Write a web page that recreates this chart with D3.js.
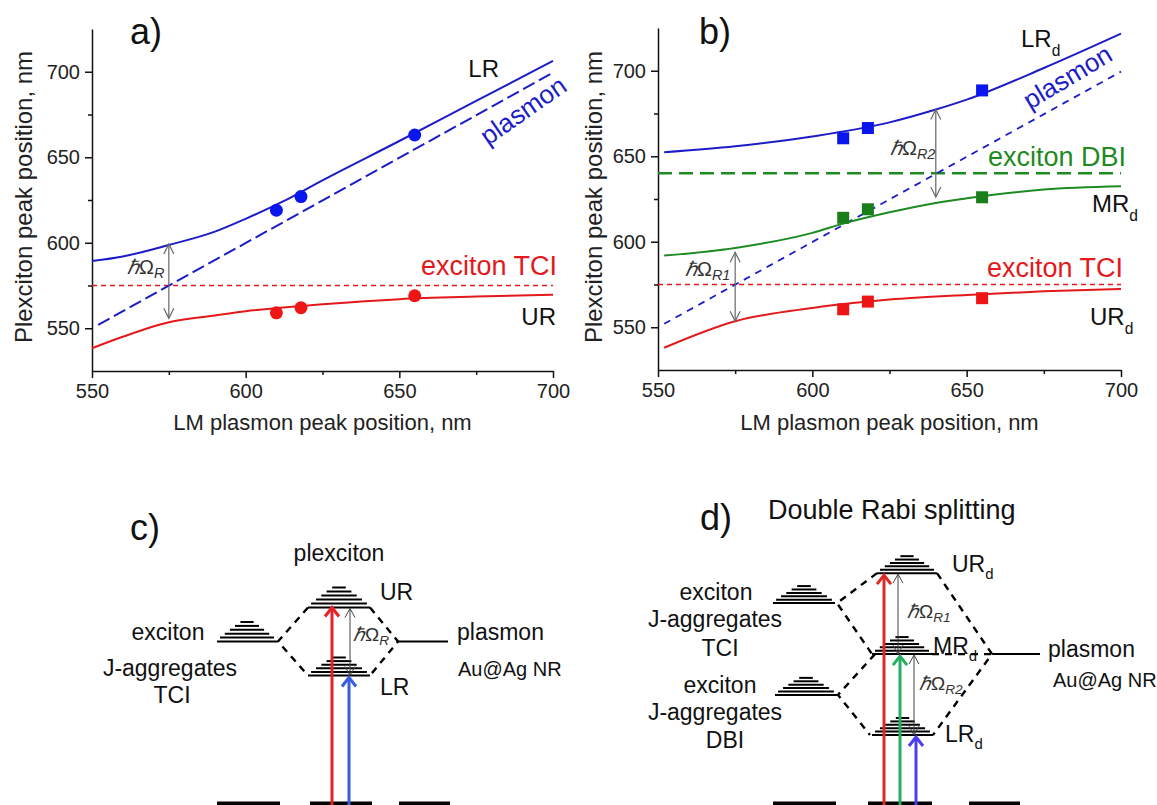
<!DOCTYPE html>
<html>
<head>
<meta charset="utf-8">
<script src="https://cdn.jsdelivr.net/npm/d3@7"></script>
<style>
  body { margin: 0; background: #fff; }
  text { font-family: "Liberation Sans", Arial, sans-serif; }
</style>
</head>
<body>
<svg id="fig" width="1157" height="805"></svg>
<script>
// ---------- values ----------
// panel a
const lmA   = [550, 560, 575, 590, 600, 612, 625, 650, 675, 700];
const lrA   = [589.3, 592, 598.7, 606.5, 614, 624, 636.5, 659.5, 683, 706.3];
const lmUrA = [550, 560, 575, 590, 600, 625, 650, 675, 700];
const urA   = [538.3, 545, 553.5, 557.5, 560, 564, 567, 568.5, 569.6];
const plasmonX = [552, 700];
const plasmonY = [552, 699.5];
const excitonTCI = 575;
const excitonDBI = 640;
const sampleX  = [610, 618, 655];
const lrDotsA  = [619, 627, 663];
const urDotsA  = [559, 562, 569];
const rabiA = [{x: 575, top: 599.3, bot: 555.8}];

// panel b
const lmB   = [552, 575, 600, 625, 640, 650, 675, 700];
const lrB   = [652.3, 655.8, 661.6, 669.8, 677.3, 683.1, 701.6, 721.7];
const lmMrB = [552, 575, 600, 610, 625, 640, 650, 675, 700];
const mrB   = [591.9, 596.4, 605.2, 610.6, 617.2, 622.7, 625.4, 630.5, 632.4];
const lmUrB = [552, 575, 600, 625, 650, 675, 700];
const urB   = [538, 553.5, 561.3, 566.2, 568.9, 571, 572.4];
const lrSqB = [660.5, 666.5, 688.5];
const mrSqB = [614, 619, 626];
const urSqB = [560.5, 565, 567];
const rabiB = [{x: 575, top: 593.8, bot: 553.5}, {x: 640, top: 677.3, bot: 626.2}];

const xTicks = [550, 600, 650, 700];
const xMinor = [575, 625, 675];
const yTicks = [550, 600, 650, 700];
const yMinor = [575, 625, 675];

// energy levels of the schemes (arbitrary units above ground)
const levelsC = {UR: 5.75, exciton: 4.75, plasmon: 4.75, LR: 3.75};
const levelsD = {URd: 6.76, TCI: 5.88, MRd: 4.38, plasmon: 4.38, DBI: 3.18, LRd: 2.0};

// colours
const BLUE = "#1c1cc8", RED = "#e3191c", GREEN = "#1e8a22";

const svg = d3.select("#fig");
svg.append("rect").attr("width", 1157).attr("height", 805).attr("fill", "#fff");

function arrowHead(g, x, y, dir, hw, hh, color, w) {
  // dir = -1 points up, +1 points down
  g.append("polyline")
    .attr("points", [[x - hw, y - dir * hh], [x, y], [x + hw, y - dir * hh]].map(p => p.join(",")).join(" "))
    .attr("fill", "none").attr("stroke", color).attr("stroke-width", w);
}

function hbarLabel(g, x, y, sub, size, anchor) {
  const t = g.append("text").attr("x", x).attr("y", y)
    .attr("font-family", "DejaVu Serif, serif").attr("font-size", size)
    .attr("fill", "#333").attr("text-anchor", anchor || "start");
  t.append("tspan").attr("font-style", "italic").text("\u210F");
  t.append("tspan").text("\u03A9");
  t.append("tspan").attr("font-style", "italic").attr("font-size", size * 0.72).attr("dy", 4).text(sub);
  return t;
}

function plotPanel(opt) {
  const x = d3.scaleLinear().domain([550, 700]).range(opt.xr);
  const y = d3.scaleLinear().domain([525, 725]).range(opt.yr);
  const g = svg.append("g");

  g.append("g").attr("transform", `translate(0,${opt.yr[0]})`)
    .call(d3.axisBottom(x).tickValues(xTicks).tickSize(7).tickSizeOuter(0).tickPadding(6));
  g.append("g").attr("transform", `translate(0,${opt.yr[0]})`)
    .call(d3.axisBottom(x).tickValues(xMinor).tickSize(4).tickFormat("")).select(".domain").remove();
  g.append("g").attr("transform", `translate(${opt.xr[0]},0)`)
    .call(d3.axisLeft(y).tickValues(yTicks).tickSize(7).tickSizeOuter(0).tickPadding(5));
  g.append("g").attr("transform", `translate(${opt.xr[0]},0)`)
    .call(d3.axisLeft(y).tickValues(yMinor).tickSize(4).tickFormat("")).select(".domain").remove();
  g.selectAll(".domain, .tick line").attr("stroke", "#111").attr("stroke-width", 1.5);
  g.selectAll(".tick text").attr("font-size", 20).attr("fill", "#222")
    .attr("font-family", "Liberation Sans, Arial, sans-serif");

  g.append("text").attr("x", (opt.xr[0] + opt.xr[1]) / 2).attr("y", 430)
    .attr("text-anchor", "middle").attr("font-size", 22).attr("fill", "#222")
    .text("LM plasmon peak position, nm");
  g.append("text").attr("transform", `translate(${opt.ytx},197) rotate(-90)`)
    .attr("text-anchor", "middle").attr("font-size", 24).attr("fill", "#222")
    .text("Plexciton peak position, nm");
  g.append("text").attr("x", opt.lx).attr("y", 44).attr("font-size", 36).attr("fill", "#111").text(opt.letter);

  const line = d3.line().x(d => x(d[0])).y(d => y(d[1])).curve(d3.curveMonotoneX);
  const hline = (v, color, dash, w) => g.append("line")
    .attr("x1", x(550)).attr("x2", x(700)).attr("y1", y(v)).attr("y2", y(v))
    .attr("stroke", color).attr("stroke-width", w).attr("stroke-dasharray", dash);

  return {x, y, g, line, hline};
}

// ================= panel a =================
{
  const P = plotPanel({xr: [92, 553], yr: [371, 29], ytx: 32, lx: 130, letter: "a)"});
  const {x, y, g, line, hline} = P;

  hline(excitonTCI, RED, "5,4", 1.5);
  g.append("path").datum(d3.zip(plasmonX, plasmonY)).attr("d", line)
    .attr("fill", "none").attr("stroke", BLUE).attr("stroke-width", 2).attr("stroke-dasharray", "13,5");
  g.append("path").datum(d3.zip(lmA, lrA)).attr("d", line)
    .attr("fill", "none").attr("stroke", BLUE).attr("stroke-width", 2);
  g.append("path").datum(d3.zip(lmUrA, urA)).attr("d", line)
    .attr("fill", "none").attr("stroke", RED).attr("stroke-width", 2);

  g.selectAll("circle.lr").data(d3.zip(sampleX, lrDotsA)).join("circle")
    .attr("cx", d => x(d[0])).attr("cy", d => y(d[1])).attr("r", 6.5).attr("fill", "#0b16ee");
  g.selectAll("circle.ur").data(d3.zip(sampleX, urDotsA)).join("circle")
    .attr("cx", d => x(d[0])).attr("cy", d => y(d[1])).attr("r", 6.5).attr("fill", "#ee1515");

  rabiA.forEach(r => {
    g.append("line").attr("x1", x(r.x)).attr("x2", x(r.x)).attr("y1", y(r.top)).attr("y2", y(r.bot))
      .attr("stroke", "#666").attr("stroke-width", 1.2);
    arrowHead(g, x(r.x), y(r.top), -1, 5, 10, "#666", 1.2);
    arrowHead(g, x(r.x), y(r.bot), 1, 5, 10, "#666", 1.2);
  });
  hbarLabel(g, 127, 274, "R", 20);

  g.append("text").attr("x", 499).attr("y", 77).attr("text-anchor", "end").attr("font-size", 24).attr("fill", "#111").text("LR");
  g.append("text").attr("transform", "translate(488,146) rotate(-35)").attr("font-size", 26).attr("fill", BLUE).text("plasmon");
  g.append("text").attr("x", 557).attr("y", 275).attr("text-anchor", "end").attr("font-size", 27).attr("fill", RED).text("exciton TCI");
  g.append("text").attr("x", 556).attr("y", 325).attr("text-anchor", "end").attr("font-size", 24).attr("fill", "#111").text("UR");
}

// ================= panel b =================
{
  const P = plotPanel({xr: [658, 1121], yr: [370, 28], ytx: 602, lx: 699, letter: "b)"});
  const {x, y, g, line, hline} = P;

  hline(excitonTCI, RED, "5,4", 1.5);
  hline(excitonDBI, GREEN, "14,7", 2.5);
  g.append("path").datum(d3.zip(plasmonX, plasmonY)).attr("d", line)
    .attr("fill", "none").attr("stroke", BLUE).attr("stroke-width", 1.8).attr("stroke-dasharray", "7,6");
  g.append("path").datum(d3.zip(lmB, lrB)).attr("d", line)
    .attr("fill", "none").attr("stroke", BLUE).attr("stroke-width", 2);
  g.append("path").datum(d3.zip(lmMrB, mrB)).attr("d", line)
    .attr("fill", "none").attr("stroke", GREEN).attr("stroke-width", 2);
  g.append("path").datum(d3.zip(lmUrB, urB)).attr("d", line)
    .attr("fill", "none").attr("stroke", RED).attr("stroke-width", 2);

  const sq = 12;
  [[lrSqB, "#0b16ee"], [mrSqB, "#1a7f1a"], [urSqB, "#ee1515"]].forEach(([vals, c]) => {
    g.append("g").selectAll("rect").data(d3.zip(sampleX, vals)).join("rect")
      .attr("x", d => x(d[0]) - sq / 2).attr("y", d => y(d[1]) - sq / 2)
      .attr("width", sq).attr("height", sq).attr("fill", c);
  });

  rabiB.forEach(r => {
    g.append("line").attr("x1", x(r.x)).attr("x2", x(r.x)).attr("y1", y(r.top)).attr("y2", y(r.bot))
      .attr("stroke", "#666").attr("stroke-width", 1.2);
    arrowHead(g, x(r.x), y(r.top), -1, 5, 10, "#666", 1.2);
    arrowHead(g, x(r.x), y(r.bot), 1, 5, 10, "#666", 1.2);
  });
  hbarLabel(g, 685, 276, "R1", 20);
  hbarLabel(g, 890, 155, "R2", 20);

  const sub = (tx, ty, main, color, size) => {
    const t = g.append("text").attr("x", tx).attr("y", ty).attr("font-size", size).attr("fill", color);
    t.append("tspan").text(main);
    t.append("tspan").attr("font-size", size * 0.65).attr("dy", 9).text("d");
  };
  sub(1021, 47, "LR", "#111", 24);
  sub(1092, 212, "MR", "#111", 24);
  sub(1090, 325, "UR", "#111", 24);
  g.append("text").attr("transform", "translate(1030,110) rotate(-31)").attr("font-size", 26).attr("fill", BLUE).text("plasmon");
  g.append("text").attr("x", 988).attr("y", 166).attr("font-size", 27).attr("fill", GREEN).text("exciton DBI");
  g.append("text").attr("x", 987).attr("y", 277).attr("font-size", 27).attr("fill", RED).text("exciton TCI");
}

// ================= energy schemes =================
const yE = d3.scaleLinear().domain([0, 1]).range([803, 769]);
const stackFr = [1, 0.9, 0.74, 0.57, 0.4, 0.22];

function stack(g, x0, x1, yb, gap) {
  const cx = (x0 + x1) / 2, w = x1 - x0;
  stackFr.forEach((f, i) => g.append("line")
    .attr("x1", cx - w * f / 2).attr("x2", cx + w * f / 2)
    .attr("y1", yb - i * gap).attr("y2", yb - i * gap)
    .attr("stroke", "#000").attr("stroke-width", 2));
}
function dashed(g, pts) {
  g.append("path").attr("d", d3.line()(pts)).attr("fill", "none")
    .attr("stroke", "#000").attr("stroke-width", 2.4).attr("stroke-dasharray", "7,6");
}
function solid(g, x0, x1, yy, w) {
  g.append("line").attr("x1", x0).attr("x2", x1).attr("y1", yy).attr("y2", yy)
    .attr("stroke", "#000").attr("stroke-width", w);
}
function vArrow(g, xx, y0, y1, color, w, hw, hh) {
  g.append("line").attr("x1", xx).attr("x2", xx).attr("y1", y0).attr("y2", y1 + 1)
    .attr("stroke", color).attr("stroke-width", w);
  arrowHead(g, xx, y1, -1, hw, hh, color, w);
}
function dArrow(g, xx, y0, y1) {
  g.append("line").attr("x1", xx).attr("x2", xx).attr("y1", y0).attr("y2", y1)
    .attr("stroke", "#444").attr("stroke-width", 1);
  arrowHead(g, xx, y0, -1, 5, 9, "#444", 1);
  arrowHead(g, xx, y1, 1, 5, 9, "#444", 1);
}
function label(g, tx, ty, s, size, anchor, sub) {
  const t = g.append("text").attr("x", tx).attr("y", ty).attr("font-size", size)
    .attr("fill", "#111").attr("text-anchor", anchor || "start");
  t.append("tspan").text(s);
  if (sub) t.append("tspan").attr("font-size", size * 0.65).attr("dy", 7).text(sub);
}

// ---- panel c ----
{
  const g = svg.append("g");
  const yUR = yE(levelsC.UR), yEx = yE(levelsC.exciton), yPl = yE(levelsC.plasmon), yLR = yE(levelsC.LR);
  stack(g, 217, 277, yEx, 3.9);
  stack(g, 308, 370, yUR, 4);
  stack(g, 308, 370, yLR, 3.6);
  solid(g, 398, 448, yPl, 2);
  dashed(g, [[308, yUR], [278, yEx], [308, yLR]]);
  dashed(g, [[370, yUR], [398, yPl], [370, yLR]]);
  // ground
  [[217, 280], [310, 372], [399, 450]].forEach(b => solid(g, b[0], b[1], 804, 5));
  vArrow(g, 332, 806, yUR, "#e8202a", 3, 7, 9);
  vArrow(g, 349, 806, yLR + 2, "#3a5ce0", 3, 7, 9);
  dArrow(g, 350, yUR + 1, yLR);
  hbarLabel(g, 353, 641, "R", 19);

  g.append("text").attr("x", 130).attr("y", 540).attr("font-size", 36).attr("fill", "#111").text("c)");
  label(g, 339, 561, "plexciton", 23, "middle");
  label(g, 380, 600, "UR", 23);
  label(g, 380, 695, "LR", 23);
  label(g, 168, 640, "exciton", 23, "middle");
  label(g, 170, 676, "J-aggregates", 23, "middle");
  label(g, 172, 703, "TCI", 23, "middle");
  label(g, 457, 640, "plasmon", 23);
  label(g, 458, 676, "Au@Ag NR", 20);
}

// ---- panel d ----
{
  const g = svg.append("g");
  const L = {};
  Object.keys(levelsD).forEach(k => L[k] = yE(levelsD[k]));
  stack(g, 877, 937, L.URd, 3.4);
  stack(g, 773, 835, L.TCI, 3.4);
  stack(g, 872, 932, L.MRd, 3.4);
  stack(g, 775, 837, L.DBI, 3.4);
  stack(g, 872, 933, L.LRd, 3.4);
  solid(g, 992, 1040, L.plasmon, 2);
  dashed(g, [[877, L.URd], [837, L.TCI], [872, L.MRd]]);
  dashed(g, [[875, L.MRd], [838, L.DBI], [870, L.LRd]]);
  dashed(g, [[937, L.URd], [992, L.plasmon], [933, L.LRd]]);
  dashed(g, [[932, L.MRd], [992, L.plasmon]]);
  [[773, 836], [868, 932], [969, 1020]].forEach(b => solid(g, b[0], b[1], 804, 5));
  vArrow(g, 884, 806, L.URd + 2, "#e02828", 3, 7, 9);
  vArrow(g, 900, 806, L.MRd + 2, "#22b060", 3, 7, 9);
  vArrow(g, 916, 806, L.LRd + 2, "#4a3ef0", 3, 7, 9);
  dArrow(g, 898, L.URd + 1, L.MRd);
  dArrow(g, 914, L.MRd + 1, L.LRd);
  hbarLabel(g, 907, 618, "R1", 19);
  hbarLabel(g, 919, 690, "R2", 19);

  g.append("text").attr("x", 700).attr("y", 530).attr("font-size", 36).attr("fill", "#111").text("d)");
  g.append("text").attr("x", 768).attr("y", 519).attr("font-size", 27).attr("fill", "#111")
    .attr("font-family", "Lato, 'Open Sans', sans-serif").text("Double Rabi splitting");
  label(g, 952, 572, "UR", 23, "start", "d");
  label(g, 933, 654, "MR", 23, "start", "d");
  label(g, 945, 742, "LR", 23, "start", "d");
  label(g, 716, 600, "exciton", 23, "middle");
  label(g, 715, 627, "J-aggregates", 23, "middle");
  label(g, 720, 656, "TCI", 23, "middle");
  label(g, 720, 693, "exciton", 23, "middle");
  label(g, 715, 720, "J-aggregates", 23, "middle");
  label(g, 725, 748, "DBI", 23, "middle");
  label(g, 1048, 657, "plasmon", 23);
  label(g, 1053, 687, "Au@Ag NR", 20);
}
</script>
</body>
</html>
